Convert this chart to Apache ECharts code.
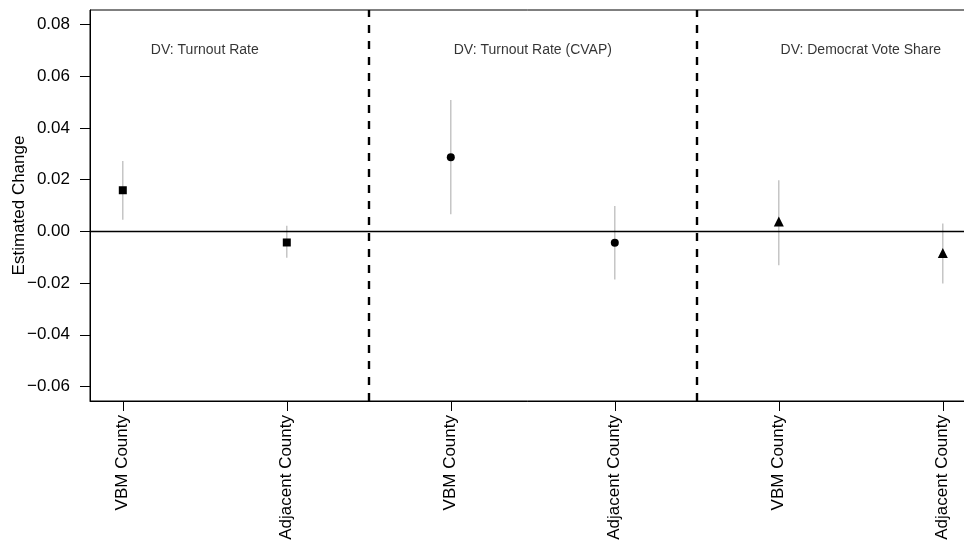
<!DOCTYPE html>
<html>
<head>
<meta charset="utf-8">
<script src="https://cdn.jsdelivr.net/npm/echarts@6/dist/echarts.min.js"></script>
<style>html,body{margin:0;padding:0;background:#fff;}#chart{width:964px;height:552px;}</style>
</head>
<body>
<div id="chart"></div>
<script>
const categories = ['VBM County','Adjacent County','VBM County','Adjacent County','VBM County','Adjacent County'];
const positions = [1,2,3,4,5,6];
const estimates = [0.0159, -0.0043, 0.0287, -0.0044, 0.0038, -0.0084];
const lower = [0.0045, -0.0102, 0.0066, -0.0186, -0.0131, -0.0202];
const upper = [0.0272, 0.0022, 0.0508, 0.0098, 0.0198, 0.0030];
const shapes = ['rect','rect','circle','circle','triangle','triangle'];
const panelLabels = ['DV: Turnout Rate','DV: Turnout Rate (CVAP)','DV: Democrat Vote Share'];
const panelCenters = [1.5, 3.5, 5.5];
const panelLabelY = 0.07;
const dividers = [2.5, 4.5];
const yTicks = [-0.06,-0.04,-0.02,0.00,0.02,0.04,0.06,0.08];

const FONT = 'Liberation Sans, Arial, Helvetica, sans-serif';
const chart = echarts.init(document.getElementById('chart'), null, {renderer:'canvas'});

const sizes = {rect:8, circle:8, triangle:10};

chart.setOption({
  animation:false,
  backgroundColor:'#fff',
  grid:{left:90, top:10, width:885.6, height:391, show:true, borderColor:'#000', borderWidth:1,
        containLabel:false, outerBoundsMode:'none'},
  xAxis:{type:'value', min:0.8, max:6.2,
    axisLine:{show:true, onZero:false, lineStyle:{color:'#000', width:1}},
    axisTick:{show:true, length:10, lineStyle:{color:'#000'}, customValues:positions},
    axisLabel:{show:true, rotate:90, margin:14, color:'#000', fontFamily:FONT, fontSize:17,
      customValues:positions, formatter:v=>categories[Math.round(v)-1]},
    splitLine:{show:false}},
  yAxis:{type:'value', min:-0.0656, max:0.0856,
    name:'Estimated Change', nameLocation:'middle', nameGap:62, nameRotate:90, nameMoveOverlap:false,
    nameTextStyle:{color:'#000', fontFamily:FONT, fontSize:17},
    axisLine:{show:true, onZero:false, lineStyle:{color:'#000', width:1}},
    axisTick:{show:true, length:10, lineStyle:{color:'#000'}, customValues:yTicks},
    axisLabel:{show:true, margin:20, color:'#000', fontFamily:FONT, fontSize:17,
      customValues:yTicks, formatter:v=>{const s=Math.abs(v).toFixed(2);return v< -1e-9?'\u2212'+s:s;}},
    splitLine:{show:false}},
  series:[
    {type:'custom', silent:true, z:2,
     data:positions.map((p,i)=>[p, lower[i], upper[i]]),
     renderItem:(params, api)=>{
       const a = api.coord([api.value(0), api.value(1)]);
       const b = api.coord([api.value(0), api.value(2)]);
       return {type:'line', shape:{x1:a[0], y1:a[1], x2:b[0], y2:b[1]},
               style:{stroke:'#bdbdbd', lineWidth:1.3}};
     },
     markLine:{silent:true, symbol:'none', label:{show:false},
       data:[
         {yAxis:0, lineStyle:{color:'#000', width:1.3, type:'solid'}},
         ...dividers.map(d=>({xAxis:d, lineStyle:{color:'#000', width:2.4, type:[8,8]}}))
       ]}
    },
    {type:'scatter', z:5, silent:true,
     data:positions.map((p,i)=>({value:[p, estimates[i]], symbol:shapes[i], symbolSize:sizes[shapes[i]]})),
     itemStyle:{color:'#000', opacity:1}},
    {type:'scatter', z:6, silent:true, symbolSize:0,
     data:panelCenters.map((c,i)=>({value:[c, panelLabelY], name:panelLabels[i]})),
     label:{show:true, position:'inside', formatter:p=>p.name, color:'#000', fontFamily:FONT, fontSize:14}}
  ]
});
</script>
</body>
</html>
